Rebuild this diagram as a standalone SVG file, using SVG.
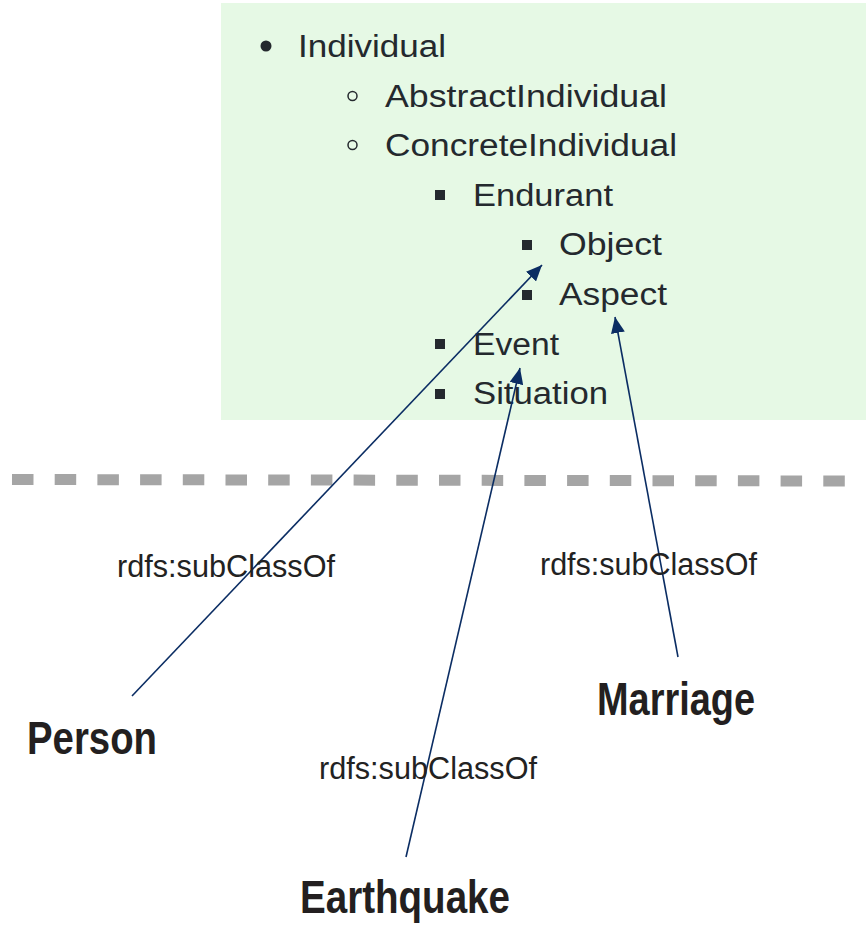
<svg xmlns="http://www.w3.org/2000/svg" width="866" height="925" viewBox="0 0 866 925">
  <style>
    .item { font-family: "Liberation Sans", Arial, sans-serif; font-size: 31px; fill: #24292e; }
    .rel { font-family: "Liberation Sans", Arial, sans-serif; font-size: 31px; fill: #222222; }
    .cls { font-family: "Liberation Sans", Arial, sans-serif; font-size: 47px; font-weight: bold; fill: #231f20; }
    .edge { stroke: #0b2d63; stroke-width: 1.6; fill: none; marker-end: url(#arrow); }
    .sq { fill: #24292e; }
  </style>
  <defs>
    <marker id="arrow" viewBox="0 0 16 14" refX="16" refY="7" markerWidth="16" markerHeight="14" orient="auto" markerUnits="userSpaceOnUse">
      <path d="M0,0 L16,7 L0,14 Z" fill="#0b2d63"/>
    </marker>
  </defs>

  <rect width="866" height="925" fill="#ffffff"/>

  <!-- upper ontology hierarchy -->
  <g id="hierarchy">
    <rect x="221" y="3" width="645" height="417" fill="#e6f9e5"/>
    <circle cx="266" cy="46" r="5.5" fill="#24292e"/>
    <text class="item" x="298" y="57" textLength="148" lengthAdjust="spacingAndGlyphs">Individual</text>
    <circle cx="352.5" cy="96" r="4.5" fill="none" stroke="#24292e" stroke-width="1.5"/>
    <text class="item" x="385" y="107" textLength="282" lengthAdjust="spacingAndGlyphs">AbstractIndividual</text>
    <circle cx="352.5" cy="145" r="4.5" fill="none" stroke="#24292e" stroke-width="1.5"/>
    <text class="item" x="385" y="156" textLength="292" lengthAdjust="spacingAndGlyphs">ConcreteIndividual</text>
    <rect class="sq" x="435" y="190" width="10" height="10"/>
    <text class="item" x="473" y="205.5" textLength="140" lengthAdjust="spacingAndGlyphs">Endurant</text>
    <rect class="sq" x="522" y="240" width="10" height="10"/>
    <text class="item" x="559" y="255" textLength="103" lengthAdjust="spacingAndGlyphs">Object</text>
    <rect class="sq" x="522" y="290" width="10" height="10"/>
    <text class="item" x="559" y="305" textLength="108" lengthAdjust="spacingAndGlyphs">Aspect</text>
    <rect class="sq" x="435" y="339" width="10" height="10"/>
    <text class="item" x="473" y="355" textLength="86" lengthAdjust="spacingAndGlyphs">Event</text>
    <rect class="sq" x="435" y="389" width="10" height="10"/>
    <text class="item" x="473" y="404" textLength="135" lengthAdjust="spacingAndGlyphs">Situation</text>
  </g>

  <!-- separator between upper ontology and domain classes -->
  <line id="separator" x1="12" y1="479.5" x2="845" y2="481" stroke="#a5a5a5" stroke-width="11" stroke-dasharray="21.5 21.2"/>

  <!-- domain classes -->
  <g id="person">
    <text class="cls" x="27" y="754" textLength="130" lengthAdjust="spacingAndGlyphs">Person</text>
  </g>
  <g id="marriage">
    <text class="cls" x="597" y="715" textLength="158" lengthAdjust="spacingAndGlyphs">Marriage</text>
  </g>
  <g id="earthquake">
    <text class="cls" x="300" y="913" textLength="210" lengthAdjust="spacingAndGlyphs">Earthquake</text>
  </g>

  <!-- subclass connectors -->
  <g id="connectors">
    <line class="edge" x1="132" y1="696" x2="542" y2="265"/>
    <line class="edge" x1="406" y1="857" x2="520" y2="368"/>
    <line class="edge" x1="678" y1="657" x2="615" y2="317"/>
    <text class="rel" x="117" y="577" textLength="218" lengthAdjust="spacingAndGlyphs">rdfs:subClassOf</text>
    <text class="rel" x="540" y="575" textLength="217" lengthAdjust="spacingAndGlyphs">rdfs:subClassOf</text>
    <text class="rel" x="319" y="779" textLength="218" lengthAdjust="spacingAndGlyphs">rdfs:subClassOf</text>
  </g>
</svg>
